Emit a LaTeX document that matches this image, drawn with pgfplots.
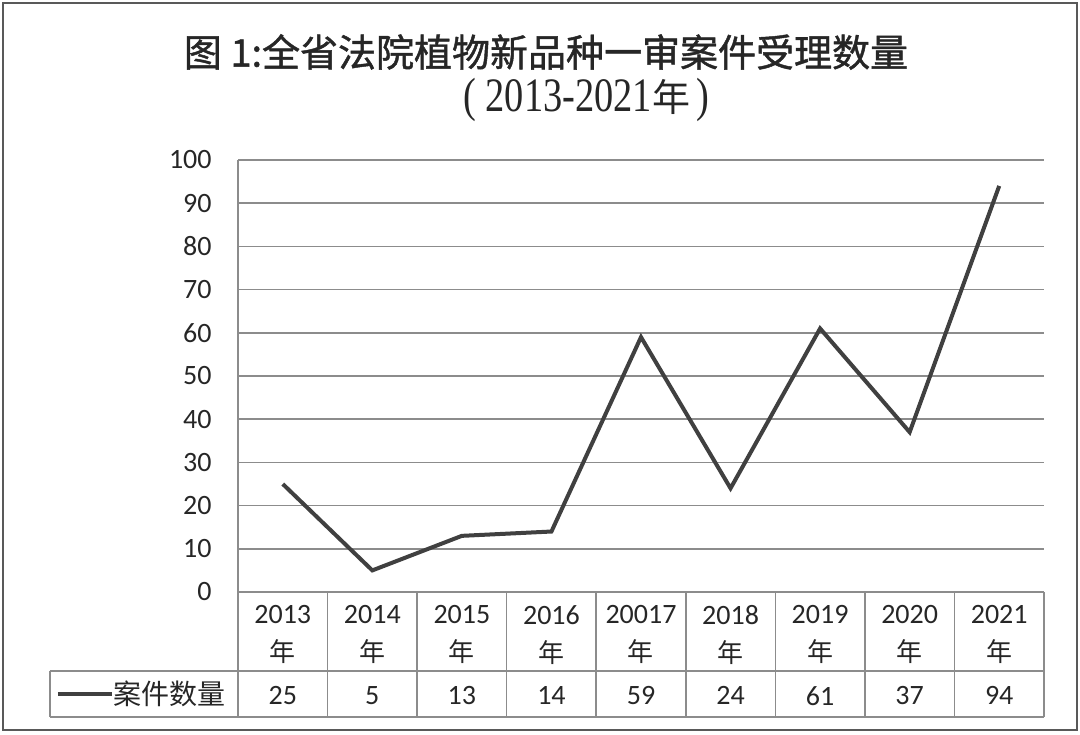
\documentclass[border=0pt]{standalone}
\usepackage{pgfplots}
\pgfplotsset{compat=1.18}
\usepackage{fontspec}
\setmainfont{Carlito}
\newfontfamily\cjk{Noto Sans CJK SC}
\newfontfamily\cjkt[FakeBold=1.2]{Noto Sans CJK SC}
\newfontfamily\subfont[FakeStretch=0.8]{Liberation Serif}
\definecolor{txt}{HTML}{262626}
\definecolor{ln}{HTML}{404040}
\definecolor{grd}{HTML}{8C8C8C}
\definecolor{frm}{HTML}{595959}
\begin{document}
\begin{tikzpicture}
\begin{axis}[
  at={(0pt,0pt)}, anchor=south west,
  scale only axis, width=403pt, height=216pt,
  xmin=-0.5, xmax=8.5, ymin=0, ymax=100,
  ytick={0,10,...,100},
  ymajorgrids, grid style={grd, line width=0.75pt},
  axis lines*=left,
  axis line style={grd, line width=0.75pt},
  major tick length=0pt,
  xtick={0,...,8},
  xticklabels={{2013\\{\cjk\fontsize{13}{13}\selectfont 年}},{2014\\{\cjk\fontsize{13}{13}\selectfont 年}},{2015\\{\cjk\fontsize{13}{13}\selectfont 年}},{2016\\{\cjk\fontsize{13}{13}\selectfont 年}},{20017\\{\cjk\fontsize{13}{13}\selectfont 年}},{2018\\{\cjk\fontsize{13}{13}\selectfont 年}},{2019\\{\cjk\fontsize{13}{13}\selectfont 年}},{2020\\{\cjk\fontsize{13}{13}\selectfont 年}},{2021\\{\cjk\fontsize{13}{13}\selectfont 年}}},
  xticklabel style={align=center, inner sep=0pt, anchor=north, yshift=-6.5pt, font=\fontsize{14}{19}\selectfont, text=txt},
  extra x ticks={0,...,8},
  extra x tick labels={25,5,13,14,59,24,61,37,94},
  extra x tick style={xticklabel style={yshift=-40.5pt}},
  yticklabel style={inner sep=0pt, xshift=-13pt, font=\fontsize{14}{17}\selectfont, text=txt},
  /pgf/number format/assume math mode=true,
  clip=false,
]
\addplot[ln, line width=2pt, mark=none] coordinates {
(0,25) (1,5) (2,13) (3,14) (4,59) (5,24) (6,61) (7,37) (8,94)};
\end{axis}
% data table lines
\begin{scope}[grd, line width=0.75pt]
\draw (0pt,0pt) -- (0pt,-62.5pt);
\foreach \i in {1,...,9} \draw (\i*44.778pt,0pt) -- (\i*44.778pt,-62.5pt);
\draw (-94pt,-39.5pt) -- (403pt,-39.5pt);
\draw (-94pt,-62.5pt) -- (403pt,-62.5pt);
\draw (-94pt,-39.5pt) -- (-94pt,-62.5pt);
\end{scope}
\draw[ln, line width=2pt] (-90pt,-51pt) -- (-63pt,-51pt);
\node[anchor=west, inner sep=0pt, text=txt, font=\cjk\fontsize{14}{14}\selectfont] at (-62.5pt,-51pt) {案件数量};
% titles
\node[text=txt, font=\cjkt\fontsize{19}{19}\selectfont] at (154pt,270pt) {图 1:全省法院植物新品种一审案件受理数量};
\node[text=txt, font=\subfont\fontsize{24}{24}\selectfont] at (174pt,246pt) {(\hspace{5pt}2013-2021{\cjk\fontsize{19}{19}\selectfont 年}\hspace{3pt})};
% frame
\draw[frm, line width=1pt] (-117.5pt,-69pt) rectangle (419.5pt,294.5pt);
\pgfresetboundingbox
\path (-119pt,-71pt) rectangle (421pt,296pt);
\end{tikzpicture}
\end{document}
